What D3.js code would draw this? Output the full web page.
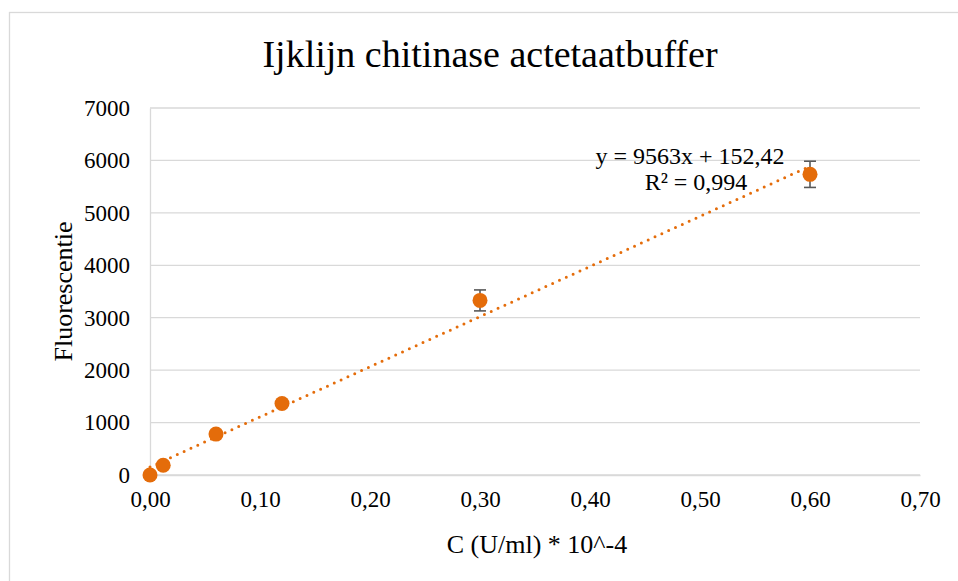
<!DOCTYPE html>
<html>
<head>
<meta charset="utf-8">
<script src="https://cdn.jsdelivr.net/npm/d3@7"></script>
<style>
  body { margin: 0; background: #fff; }
</style>
</head>
<body>
<div id="chart"></div>
<script>
const concentration = [0, 0.012, 0.06, 0.12, 0.3, 0.6];
const fluorescence = [0, 185, 780, 1365, 3330, 5735];
const errors = [0, 0, 0, 0, 200, 250];
const xTicks = [0, 0.1, 0.2, 0.3, 0.4, 0.5, 0.6, 0.7];
const yTicks = [0, 1000, 2000, 3000, 4000, 5000, 6000, 7000];
const slope = 9563;
const intercept = 152.42;
const equationLines = ["y = 9563x + 152,42", "R² = 0,994"];

const FONT = "'Liberation Serif', 'DejaVu Serif', serif";
const orange = "#E46C0A";
const margin = { top: 108, right: 38, bottom: 106, left: 150 };
const W = 958, H = 581;
const width = W - margin.left - margin.right;
const height = H - margin.top - margin.bottom;

const svg = d3.select("#chart").append("svg")
  .attr("width", W).attr("height", H);

// chart area border
svg.append("rect")
  .attr("x", 9.5).attr("y", 12.5)
  .attr("width", W + 20).attr("height", H + 20)
  .attr("fill", "none").attr("stroke", "#d9d9d9").attr("stroke-width", 1.3);

svg.append("text")
  .attr("x", 490).attr("y", 67)
  .attr("text-anchor", "middle")
  .style("font-family", FONT).style("font-size", "38px")
  .text("Ijklijn chitinase actetaatbuffer");

const g = svg.append("g").attr("transform", `translate(${margin.left},${margin.top})`);

const x = d3.scaleLinear().domain([0, 0.7]).range([0, width]);
const y = d3.scaleLinear().domain([0, 7000]).range([height, 0]);

// gridlines
g.selectAll(".grid").data(yTicks).enter().append("line")
  .attr("x1", 0).attr("x2", width)
  .attr("y1", d => y(d)).attr("y2", d => y(d))
  .attr("stroke", "#d9d9d9").attr("stroke-width", 1.3);

// axes
const yAxis = g.append("g")
  .call(d3.axisLeft(y).tickValues(yTicks).tickSize(0).tickPadding(20).tickFormat(d3.format("d")));
yAxis.select(".domain").attr("stroke", "#d9d9d9").attr("stroke-width", 1.3);
yAxis.selectAll("text").style("font-family", FONT).style("font-size", "23px").attr("fill", "#000");

const xAxis = g.append("g").attr("transform", `translate(0,${height})`)
  .call(d3.axisBottom(x).tickValues(xTicks).tickSize(0).tickPadding(16)
    .tickFormat(d => d.toFixed(2).replace(".", ",")));
xAxis.select(".domain").attr("stroke", "#d9d9d9").attr("stroke-width", 1.3);
xAxis.selectAll("text").style("font-family", FONT).style("font-size", "23px").attr("fill", "#000");

// axis titles
svg.append("text")
  .attr("x", 537).attr("y", 553)
  .attr("text-anchor", "middle")
  .style("font-family", FONT).style("font-size", "26px")
  .text("C (U/ml) * 10^-4");

svg.append("text")
  .attr("transform", `translate(72,${margin.top + height / 2}) rotate(-90)`)
  .attr("text-anchor", "middle")
  .style("font-family", FONT).style("font-size", "26px")
  .text("Fluorescentie");

// trendline
const xMax = d3.max(concentration);
g.append("line")
  .attr("x1", x(0)).attr("y1", y(intercept))
  .attr("x2", x(xMax)).attr("y2", y(slope * xMax + intercept))
  .attr("stroke", orange).attr("stroke-width", 3)
  .attr("stroke-linecap", "round")
  .attr("stroke-dasharray", "0 7.5");

// error bars
const pts = concentration.map((c, i) => ({ c, f: fluorescence[i], e: errors[i] }));
const eb = g.selectAll(".err").data(pts.filter(d => d.e > 0)).enter().append("g")
  .attr("stroke", "#595959").attr("stroke-width", 1.6);
eb.append("line")
  .attr("x1", d => x(d.c)).attr("x2", d => x(d.c))
  .attr("y1", d => y(d.f + d.e)).attr("y2", d => y(d.f - d.e));
eb.append("line")
  .attr("x1", d => x(d.c) - 6).attr("x2", d => x(d.c) + 6)
  .attr("y1", d => y(d.f + d.e)).attr("y2", d => y(d.f + d.e));
eb.append("line")
  .attr("x1", d => x(d.c) - 6).attr("x2", d => x(d.c) + 6)
  .attr("y1", d => y(d.f - d.e)).attr("y2", d => y(d.f - d.e));

// points
g.selectAll(".pt").data(pts).enter().append("circle")
  .attr("cx", d => x(d.c)).attr("cy", d => y(d.f))
  .attr("r", 7.5).attr("fill", orange);

// equation
const eq = svg.append("text").attr("text-anchor", "middle")
  .style("font-family", FONT).style("font-size", "24px");
equationLines.forEach((t, i) => {
  eq.append("tspan").attr("x", i === 0 ? 690 : 696).attr("y", 164 + i * 26).text(t);
});
</script>
</body>
</html>
